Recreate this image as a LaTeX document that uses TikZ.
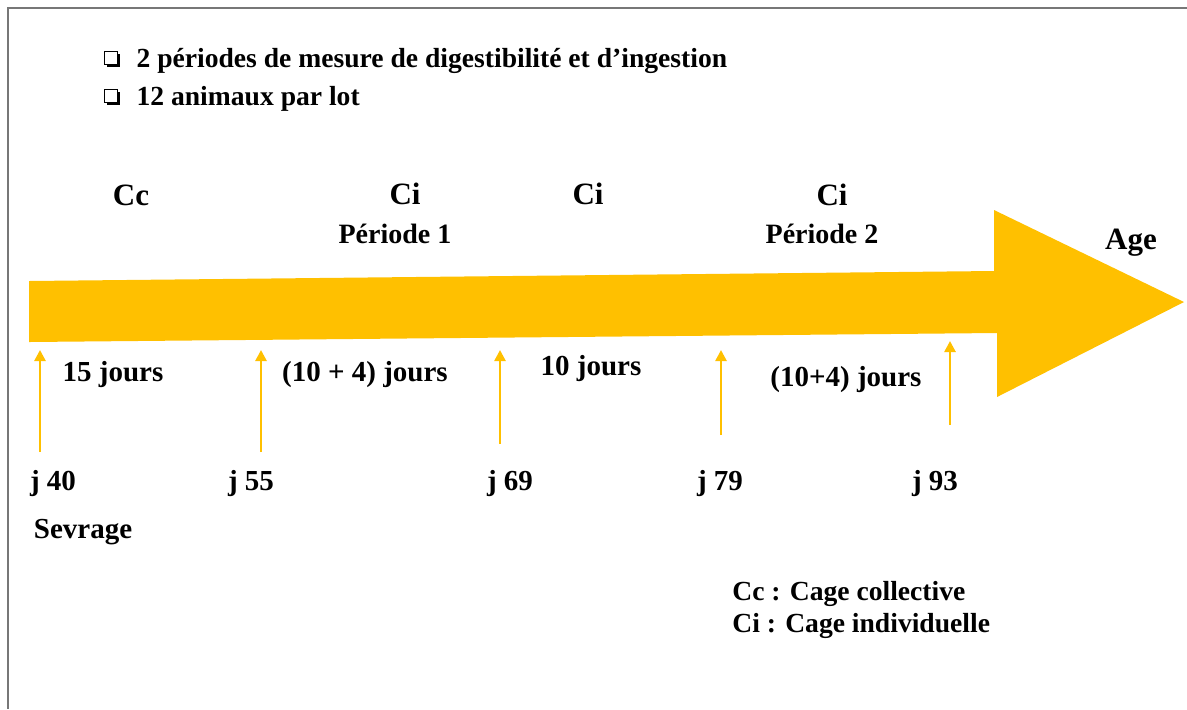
\documentclass[tikz,border=0pt]{standalone}
\usepackage{fontspec}
\setmainfont{Liberation Serif}
\usetikzlibrary{
  arrows.meta,
  positioning,  % Function "of" (e.g. [right=of x])
  shadows,      % Shadow under the check boxes
}
\definecolor{agegold}{HTML}{FFC000}
\definecolor{framegray}{HTML}{777777}
\newcommand{\fsz}[1]{\fontsize{#1}{#1}\selectfont\bfseries}
\tikzset{
  font=\bfseries,
  >=stealth,
  lbl/.style={
    font=\fsz{14.5},
    inner sep=0pt
  },
  cage/.style={
    font=\fsz{15.5},
    inner sep=0pt
  },
  note/.style={
    font=\fsz{13.8},
    inner sep=0pt
  },
  chkbox/.style={
    draw,
    fill=white,
    line width=0.8pt,
    minimum size=6.4pt,
    inner sep=0pt,
    drop shadow={shadow xshift=1.3pt,shadow yshift=-1.3pt,opacity=1,fill=black}
  },
  tick/.style={
    draw=agegold,
    line width=1.3pt,
    -{Triangle[width=5.5pt,length=5.5pt]}
  },
  timeline/.style={
    fill=agegold
  },
  frame/.style={
    draw=framegray,
    line width=1pt
  }
}

\begin{document}
\begin{tikzpicture}[x=0.5pt,y=-0.5pt]
\useasboundingbox (0,0) rectangle (1187,709);
\draw[frame] (1187,7.5) -- (8,7.5) -- (8,709);
% notes
\node[chkbox] (box1) at (111,58) {};
\node[chkbox] (box2) at (111,96) {};
\node[note,right=9pt of box1,yshift=-1.5pt] (note1) {2 périodes de mesure de digestibilité et d’ingestion};
\node[note,right=9pt of box2,yshift=-1.5pt] (note2) {12 animaux par lot};
% age arrow
\fill[timeline] (29,281) -- (994,271) -- (994,210) -- (1184,302) -- (997,397)
  -- (997,333) -- (29,342) -- cycle;
\node[cage] (cc)   at (131,195) {Cc};
\node[cage] (ci1)  at (405,194) {Ci};
\node[lbl,font=\fsz{14}] (per1) at (395,234) {Période 1};
\node[cage] (ci2)  at (588,194) {Ci};
\node[cage] (ci3)  at (832,195) {Ci};
\node[lbl,font=\fsz{14}] (per2) at (822,234) {Période 2};
\node[cage] (age)  at (1131,243) {Age};
% durations
\node[lbl] (dur1) at (113,375) {15 jours};
\node[lbl] (dur2) at (365,375) {(10 + 4) jours};
\node[lbl] (dur3) at (591,369) {10 jours};
\node[lbl] (dur4) at (846,380) {(10+4) jours};
% days
\node[lbl] (j40) at (53,484) {j 40};
\node[lbl] (j55) at (251,484) {j 55};
\node[lbl] (j69) at (510,484) {j 69};
\node[lbl] (j79) at (720,484) {j 79};
\node[lbl] (j93) at (935,484) {j 93};
\node[lbl] (sev) at (83,532) {Sevrage};
\coordinate (d40) at (40,452);  \coordinate (u40) at (40,350);
\coordinate (d55) at (261,452); \coordinate (u55) at (261,350);
\coordinate (d69) at (500,444); \coordinate (u69) at (500,350);
\coordinate (d79) at (721,435); \coordinate (u79) at (721,350);
\coordinate (d93) at (950,425); \coordinate (u93) at (950,341);
\foreach \d in {40,55,69,79,93}
  \draw[tick] (d\d) -- (u\d);
% legend
\node[lbl,font=\fsz{13.8},anchor=west] (leg1) at (732,594) {Cc : Cage collective};
\node[lbl,font=\fsz{13.8},anchor=west] (leg2) at (732,626) {Ci : Cage individuelle};
\end{tikzpicture}
\end{document}
